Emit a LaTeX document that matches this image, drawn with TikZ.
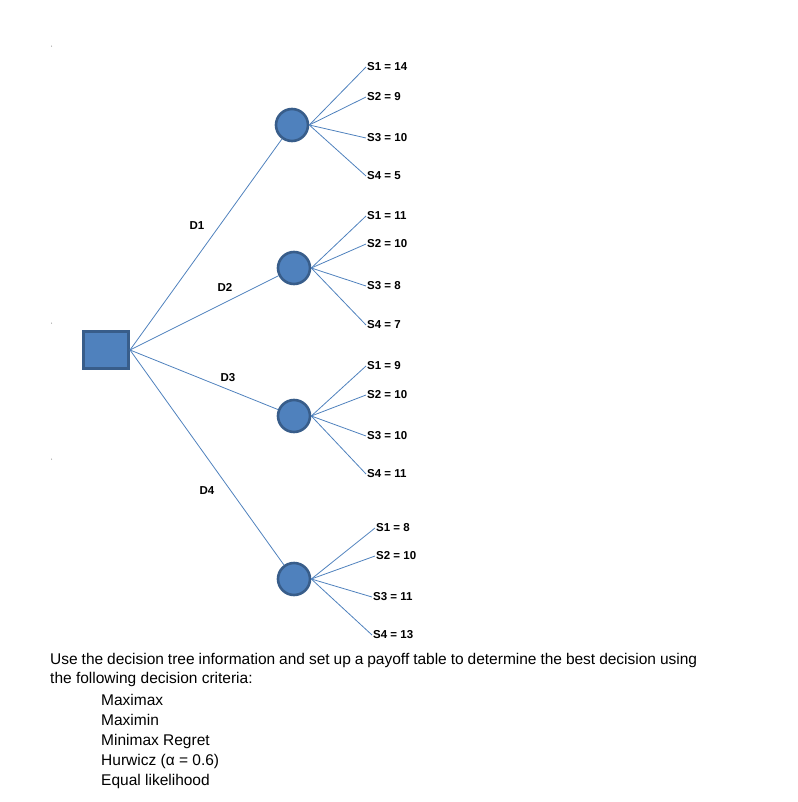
\documentclass[tikz,border=0pt]{standalone}
\usepackage{fontspec}
\setmainfont{Liberation Sans}
\begin{document}
\begin{tikzpicture}[x=1pt,y=-1pt,
  br/.style={draw=lineblue,line width=0.8pt},
  chance/.style={circle,fill=nodeblue,draw=nodeedge,line width=2.6pt,minimum size=32pt,inner sep=0},
  lab/.style={font=\bfseries\fontsize{11.5}{13}\selectfont,anchor=west,inner sep=1pt},
  dlab/.style={font=\bfseries\fontsize{11.5}{13}\selectfont,inner sep=0},
  body/.style={font=\fontsize{15.5}{19}\selectfont,anchor=west,inner sep=0}]
\definecolor{lineblue}{RGB}{79,129,189}
\definecolor{nodeblue}{RGB}{79,129,189}
\definecolor{nodeedge}{RGB}{56,93,138}
\useasboundingbox (0,0) rectangle (797,802);
\node[draw=nodeedge,fill=nodeblue,line width=3pt,minimum width=45pt,minimum height=37pt,inner sep=0] (sq) at (106,350) {};
\node[chance] (c1) at (292,125) {};
\node[chance] (c2) at (294,268) {};
\node[chance] (c3) at (294,416) {};
\node[chance] (c4) at (294,579) {};
\foreach \c in {c1,c2,c3,c4} \draw[br] (sq.east) -- (\c);
\node[dlab] (d1) at (197,226) {D1};
\node[dlab] (d2) at (225,287) {D2};
\node[dlab] (d3) at (228,378) {D3};
\node[dlab] (d4) at (207,491) {D4};
\node[lab] (a1) at (366,67) {S1 = 14};
\node[lab] (a2) at (366,97) {S2 = 9};
\node[lab] (a3) at (366,138) {S3 = 10};
\node[lab] (a4) at (366,176) {S4 = 5};
\node[lab] (b1) at (366,216) {S1 = 11};
\node[lab] (b2) at (366,244) {S2 = 10};
\node[lab] (b3) at (366,286) {S3 = 8};
\node[lab] (b4) at (366,325) {S4 = 7};
\node[lab] (e1) at (366,366) {S1 = 9};
\node[lab] (e2) at (366,395) {S2 = 10};
\node[lab] (e3) at (366,436) {S3 = 10};
\node[lab] (e4) at (366,474) {S4 = 11};
\node[lab] (f1) at (375,528) {S1 = 8};
\node[lab] (f2) at (375,556) {S2 = 10};
\node[lab] (f3) at (372,597) {S3 = 11};
\node[lab] (f4) at (372,635) {S4 = 13};
\foreach \n in {a1,a2,a3,a4} \draw[br] (c1.east) -- (\n.west);
\foreach \n in {b1,b2,b3,b4} \draw[br] (c2.east) -- (\n.west);
\foreach \n in {e1,e2,e3,e4} \draw[br] (c3.east) -- (\n.west);
\foreach \n in {f1,f2,f3,f4} \draw[br] (c4.east) -- (\n.west);
\node[font=\tiny] (t1) at (52,48) {`};
\node[font=\tiny] (t2) at (52,325) {`};
\node[font=\tiny] (t3) at (52,461) {`};
\node[body,anchor=north west,text width=647pt,align=justify] (p) at (50,653) {Use the decision tree information and set up a payoff table to determine the best decision using the following decision criteria:};
\node[body] (l1) at (101,700) {Maximax};
\node[body] (l2) at (101,720) {Maximin};
\node[body] (l3) at (101,741) {Minimax Regret};
\node[body] (l4) at (101,761) {Hurwicz (α = 0.6)};
\node[body] (l5) at (101,781) {Equal likelihood};
\end{tikzpicture}
\end{document}
